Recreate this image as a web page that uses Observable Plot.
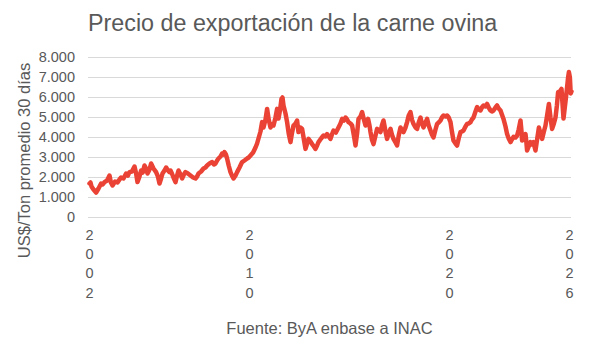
<!DOCTYPE html>
<html>
<head>
<meta charset="utf-8">
<script src="https://cdn.jsdelivr.net/npm/d3@7"></script>
<script src="https://cdn.jsdelivr.net/npm/@observablehq/plot@0.6"></script>
<style>
  html, body { margin: 0; padding: 0; background: #fff; }
  body { width: 592px; height: 356px; overflow: hidden; font-family: "Liberation Sans", Arial, sans-serif; color: #595959; }
  #title { height: 47px; line-height: 47px; font-size: 23.3px; padding-left: 88px; white-space: nowrap; }
  #chart svg { display: block; }
  #caption { height: 32px; line-height: 32px; font-size: 16.5px; margin-left: 88px; width: 483px; text-align: center; white-space: nowrap; }
</style>
</head>
<body>
<div id="title"></div>
<div id="chart"></div>
<div id="caption"></div>
<script>
const titleText = "Precio de exportación de la carne ovina";
const yLabel = "US$/Ton promedio 30 días";
const captionText = "Fuente: ByA enbase a INAC";

const xTickYears = [2002, 2010, 2020, 2026];
const yTickValues = [0, 1000, 2000, 3000, 4000, 5000, 6000, 7000, 8000];

const years = [
  2002.00, 2002.05, 2002.10, 2002.20, 2002.33, 2002.45, 2002.58, 2002.66, 2002.75, 2002.88,
  2003.00, 2003.07, 2003.15, 2003.28, 2003.40, 2003.50, 2003.58, 2003.70, 2003.83, 2003.92,
  2004.00, 2004.12, 2004.25, 2004.33, 2004.40, 2004.50, 2004.58, 2004.66, 2004.75, 2004.83,
  2004.90, 2005.00, 2005.08, 2005.20, 2005.33, 2005.42, 2005.50, 2005.58, 2005.65, 2005.75,
  2005.83, 2005.92, 2006.00, 2006.05, 2006.12, 2006.20, 2006.30, 2006.38, 2006.45, 2006.55,
  2006.63, 2006.72, 2006.80, 2006.92, 2007.05, 2007.18, 2007.30, 2007.38, 2007.45, 2007.58,
  2007.70, 2007.80, 2007.88, 2008.00, 2008.13, 2008.22, 2008.30, 2008.38, 2008.45, 2008.55,
  2008.63, 2008.70, 2008.75, 2008.82, 2008.88, 2008.96, 2009.05, 2009.12, 2009.20, 2009.30,
  2009.38, 2009.50, 2009.63, 2009.75, 2009.88, 2009.96, 2010.05, 2010.18, 2010.30, 2010.38,
  2010.45, 2010.55, 2010.63, 2010.67, 2010.70, 2010.80, 2010.88, 2010.96, 2011.05, 2011.12,
  2011.20, 2011.30, 2011.38, 2011.42, 2011.45, 2011.53, 2011.60, 2011.65, 2011.70, 2011.80,
  2011.88, 2011.96, 2012.05, 2012.12, 2012.20, 2012.30, 2012.38, 2012.42, 2012.45, 2012.55,
  2012.63, 2012.72, 2012.80, 2012.88, 2012.95, 2013.05, 2013.13, 2013.22, 2013.30, 2013.38,
  2013.45, 2013.58, 2013.70, 2013.80, 2013.88, 2013.96, 2014.05, 2014.12, 2014.20, 2014.32,
  2014.45, 2014.55, 2014.63, 2014.72, 2014.80, 2014.88, 2014.95, 2015.05, 2015.13, 2015.22,
  2015.30, 2015.38, 2015.45, 2015.55, 2015.63, 2015.72, 2015.80, 2015.86, 2015.93, 2016.00,
  2016.05, 2016.12, 2016.20, 2016.30, 2016.38, 2016.46, 2016.55, 2016.62, 2016.70, 2016.80,
  2016.88, 2016.96, 2017.05, 2017.12, 2017.20, 2017.30, 2017.38, 2017.46, 2017.55, 2017.62,
  2017.70, 2017.80, 2017.88, 2017.96, 2018.05, 2018.12, 2018.20, 2018.30, 2018.38, 2018.46,
  2018.55, 2018.62, 2018.70, 2018.80, 2018.88, 2018.96, 2019.05, 2019.12, 2019.20, 2019.30,
  2019.38, 2019.46, 2019.55, 2019.62, 2019.70, 2019.80, 2019.88, 2019.96, 2020.05, 2020.12,
  2020.20, 2020.30, 2020.38, 2020.46, 2020.55, 2020.62, 2020.70, 2020.80, 2020.88, 2020.96,
  2021.05, 2021.12, 2021.20, 2021.30, 2021.38, 2021.46, 2021.55, 2021.62, 2021.70, 2021.80,
  2021.88, 2021.96, 2022.05, 2022.12, 2022.20, 2022.30, 2022.38, 2022.46, 2022.55, 2022.62,
  2022.70, 2022.80, 2022.88, 2022.96, 2023.05, 2023.12, 2023.20, 2023.30, 2023.38, 2023.46,
  2023.55, 2023.60, 2023.63, 2023.72, 2023.80, 2023.84, 2023.88, 2023.96, 2024.05, 2024.12,
  2024.20, 2024.25, 2024.30, 2024.38, 2024.47, 2024.55, 2024.63, 2024.72, 2024.80, 2024.88,
  2024.97, 2025.05, 2025.13, 2025.22, 2025.30, 2025.37, 2025.43, 2025.52, 2025.60, 2025.65,
  2025.70, 2025.80, 2025.88, 2025.93, 2025.97, 2026.02, 2026.06, 2026.10
];
const prices = [
  1700, 1750, 1550, 1400, 1250, 1450, 1700, 1650, 1770, 1850,
  2100, 1750, 1600, 1800, 1750, 1900, 2000, 1950, 2200, 2100,
  2270, 2300, 2550, 2200, 1770, 2050, 2350, 2250, 2600, 2450,
  2200, 2400, 2700, 2450, 2270, 2050, 1700, 1950, 2200, 2350,
  2500, 2350, 2270, 2350, 2200, 2000, 1770, 2100, 2350, 2150,
  1950, 2150, 2270, 2200, 2100, 2000, 1950, 2050, 2200, 2300,
  2450, 2500, 2600, 2700, 2770, 2650, 2700, 2850, 2950, 3050,
  3200, 3150, 3270, 3150, 2950, 2600, 2270, 2100, 1950, 2100,
  2270, 2500, 2770, 2850, 2950, 3000, 3100, 3250, 3500, 3700,
  3950, 4300, 4770, 4600, 4500, 4900, 5430, 4900, 4500, 4650,
  4600, 5000, 5430, 5100, 4950, 5400, 5930, 6000, 5600, 5200,
  4770, 4200, 3770, 4200, 4600, 4700, 4850, 4500, 4270, 4500,
  4430, 3900, 3430, 3700, 3930, 3800, 3670, 3550, 3430, 3600,
  3770, 3950, 4100, 4050, 4170, 4050, 3930, 4150, 4350, 4250,
  4500, 4700, 4930, 4850, 5000, 4900, 4770, 4700, 4600, 4100,
  3600, 4200, 4930, 5050, 5270, 4900, 4600, 4800, 4930, 4600,
  4270, 3900, 3670, 4100, 4430, 4350, 4270, 4600, 4850, 4300,
  3930, 4200, 4430, 4150, 3930, 3750, 3600, 4100, 4500, 4350,
  4270, 4500, 4770, 5100, 5270, 4900, 4680, 4500, 4430, 4750,
  5000, 4700, 4500, 4750, 4930, 4600, 4350, 4150, 4000, 4400,
  4680, 4750, 4850, 5000, 5100, 5050, 5100, 5000, 4770, 4300,
  3850, 3700, 3600, 3950, 4270, 4300, 4350, 4550, 4680, 4700,
  4770, 4900, 5000, 5300, 5520, 5400, 5350, 5500, 5600, 5550,
  5680, 5500, 5350, 5300, 5350, 5500, 5600, 5450, 5350, 5150,
  4930, 4550, 4170, 3950, 3770, 3900, 4030, 4000, 4100, 4400,
  4850, 4300, 3850, 4000, 4170, 3800, 3350, 3550, 3770, 3650,
  3770, 3550, 3350, 3900, 4500, 4200, 3930, 4300, 4600, 5100,
  5680, 5000, 4430, 4700, 5000, 5600, 6270, 6300, 6430, 5700,
  4950, 5800, 6520, 7000, 7270, 7000, 6200, 6300
];

const data = years.map((year, i) => ({year, price: prices[i]}));

const fmtY = d => d === 0 ? "0" : d3.format(",")(d).replace(/,/g, ".");
const fmtX = d => String(d).split("").join("\n");

document.getElementById("title").textContent = titleText;
document.getElementById("caption").textContent = captionText;

const chart = Plot.plot({
  width: 592,
  height: 265,
  marginTop: 10,
  marginBottom: 95,
  marginLeft: 88,
  marginRight: 21,
  style: {fontFamily: "'Liberation Sans', Arial, sans-serif", color: "#595959", background: "white", overflow: "visible"},
  x: {domain: [2001.95, 2026.1]},
  y: {domain: [0, 8000]},
  marks: [
    Plot.gridY(yTickValues, {stroke: "#d9d9d9", strokeOpacity: 1, strokeWidth: 1}),
    Plot.axisY(yTickValues, {tickSize: 0, tickPadding: 13.5, fontSize: 14.5, fill: "#595959", tickFormat: fmtY, label: null}),
    Plot.axisX(xTickYears, {tickSize: 0, tickPadding: 8.5, fontSize: 14.5, lineHeight: 1.33, fill: "#595959", tickFormat: fmtX, label: null}),
    Plot.line(data, {x: "year", y: "price", stroke: "#ea4335", strokeWidth: 4.5, strokeLinejoin: "round", strokeLinecap: "round"}),
    Plot.text([yLabel], {frameAnchor: "left", textAnchor: "middle", rotate: -90, dx: -64, dy: 23, fontSize: 16.5, fill: "#595959"})
  ]
});
document.getElementById("chart").appendChild(chart);
</script>
</body>
</html>
